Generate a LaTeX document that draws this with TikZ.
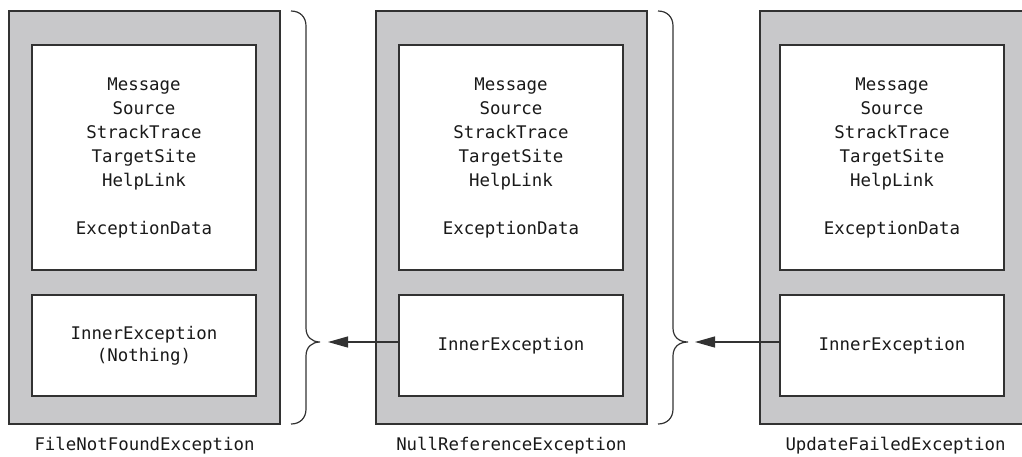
\documentclass[tikz,border=0pt]{standalone}
\usepackage{fontspec}
\setmonofont{DejaVu Sans Mono}
\usetikzlibrary{arrows.meta}
\definecolor{boxgray}{RGB}{200,200,202}
\definecolor{edge}{RGB}{50,50,50}
\definecolor{ink}{RGB}{25,25,25}
\begin{document}
\begin{tikzpicture}[x=1pt,y=-1pt,
  outerbox/.style={draw=edge,fill=boxgray,line width=1.6pt,minimum width=271pt,minimum height=413pt,inner sep=0pt,outer sep=0pt},
  topbox/.style={draw=edge,fill=white,line width=1.6pt,minimum width=224pt,minimum height=225pt,inner sep=0pt,outer sep=0pt,align=center,text=ink,font=\ttfamily\fontsize{17.4}{24}\selectfont},
  botbox/.style={draw=edge,fill=white,line width=1.6pt,minimum width=224pt,minimum height=101pt,inner sep=0pt,outer sep=0pt,align=center,text=ink,font=\ttfamily\fontsize{17.4}{22}\selectfont},
  caption/.style={anchor=base,text=ink,font=\ttfamily\fontsize{17.4}{24}\selectfont,inner sep=0pt},
  bracepath/.style={draw=edge,line width=1.2pt},
  arr/.style={draw=edge,line width=1.2pt,-{Triangle[length=20pt,width=11pt]}}
]
\useasboundingbox (0,0) rectangle (1022,456);

% box 1
\node[outerbox] (o1) at (144.5,217.5) {};
\node[topbox] (t1) at (144,157.5) {Message\\Source\\StrackTrace\\TargetSite\\HelpLink\\[24pt]ExceptionData};
\node[botbox] (b1) at (144,345.5) {InnerException\\(Nothing)};
\node[caption] (c1) at (144.5,450.5) {FileNotFoundException};

% box 2
\node[outerbox] (o2) at (511.5,217.5) {};
\node[topbox] (t2) at (511,157.5) {Message\\Source\\StrackTrace\\TargetSite\\HelpLink\\[24pt]ExceptionData};
\node[botbox] (b2) at (511,345.5) {InnerException};
\node[caption] (c2) at (511.5,450.5) {NullReferenceException};

% box 3
\node[outerbox] (o3) at (895.5,217.5) {};
\node[topbox] (t3) at (892,157.5) {Message\\Source\\StrackTrace\\TargetSite\\HelpLink\\[24pt]ExceptionData};
\node[botbox] (b3) at (892,345.5) {InnerException};
\node[caption] (c3) at (895.5,450.5) {UpdateFailedException};

% braces
\coordinate (tip1) at (320,342);
\coordinate (tip2) at (688,342);
\draw[bracepath] (291,11) .. controls (300,11) and (306,17) .. (306,26) -- (306,328)
  .. controls (306,337) and (312,342) .. (tip1)
  .. controls (312,342) and (306,347) .. (306,356) -- (306,409)
  .. controls (306,418) and (300,424) .. (291,424);
\draw[bracepath] (658,11) .. controls (667,11) and (673,17) .. (673,26) -- (673,328)
  .. controls (673,337) and (679,342) .. (tip2)
  .. controls (679,342) and (673,347) .. (673,356) -- (673,409)
  .. controls (673,418) and (667,424) .. (658,424);

% arrows
\coordinate (s2) at (b2.west |- tip1);
\coordinate (s3) at (b3.west |- tip2);
\draw[arr,shorten >=8pt] (s2) -- (tip1);
\draw[arr,shorten >=7pt] (s3) -- (tip2);
\end{tikzpicture}
\end{document}
